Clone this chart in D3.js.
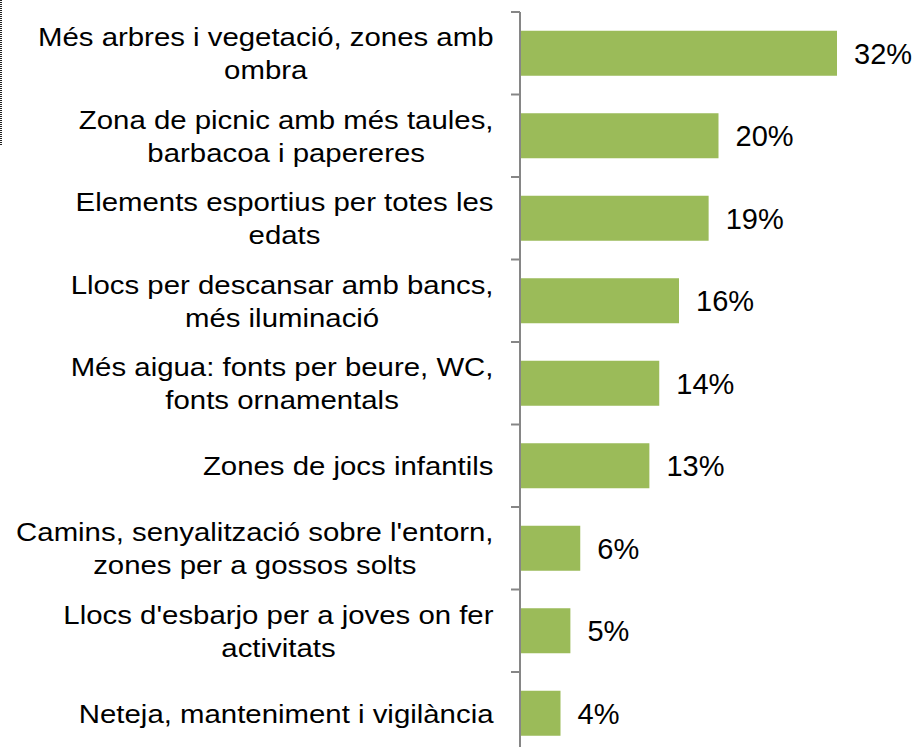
<!DOCTYPE html>
<html>
<head>
<meta charset="utf-8">
<script src="https://cdn.jsdelivr.net/npm/d3@7"></script>
<style>
  body { margin: 0; background: #fff; }
  svg { display: block; font-family: "Liberation Sans", Arial, sans-serif; }
</style>
</head>
<body>
<script>
'use strict';

// categories (lines split with "|") and their share in %
const categories = [
  "Més arbres i vegetació, zones amb|ombra",
  "Zona de picnic amb més taules,|barbacoa i papereres",
  "Elements esportius per totes les|edats",
  "Llocs per descansar amb bancs,|més iluminació",
  "Més aigua: fonts per beure, WC,|fonts ornamentals",
  "Zones de jocs infantils",
  "Camins, senyalització sobre l'entorn,|zones per a gossos solts",
  "Llocs d'esbarjo per a joves on fer|activitats",
  "Neteja, manteniment i vigilància"
];
const values = [32, 20, 19, 16, 14, 13, 6, 5, 4];
const valueLabels = ["32%", "20%", "19%", "16%", "14%", "13%", "6%", "5%", "4%"];

const width = 916, height = 747;
const axisX = 520;

const svg = d3.select("body").append("svg")
  .attr("width", width)
  .attr("height", height);

// scales
const y = d3.scaleBand()
  .domain(categories)
  .range([12, 754.5])
  .paddingInner(0.4545)
  .paddingOuter(0.4545 / 2);

const x = d3.scaleLinear()
  .domain([0, 35])
  .range([axisX + 1, axisX + 1 + 35 * 9.875]);

// dotted border bit on the far left
svg.append("line")
  .attr("x1", 1).attr("x2", 1)
  .attr("y1", 0).attr("y2", 145)
  .attr("stroke", "#222")
  .attr("stroke-width", 2)
  .attr("stroke-dasharray", "1,1");

// bars
svg.selectAll(".bar")
  .data(categories)
  .enter()
  .append("rect")
    .attr("class", "bar")
    .attr("x", x(0))
    .attr("y", d => y(d))
    .attr("width", (d, i) => x(values[i]) - x(0))
    .attr("height", y.bandwidth())
    .attr("fill", "#9BBB59");

// value labels
svg.selectAll(".val")
  .data(categories)
  .enter()
  .append("text")
    .attr("class", "val")
    .attr("x", (d, i) => x(values[i]) + 17)
    .attr("y", d => y(d) + y.bandwidth() / 2)
    .attr("dy", "0.36em")
    .attr("font-size", "29px")
    .attr("fill", "#000")
    .text((d, i) => valueLabels[i]);

// vertical axis line + ticks at category boundaries
const axisG = svg.append("g").attr("stroke", "#868686").attr("stroke-width", 2);
axisG.append("line")
  .attr("x1", axisX).attr("x2", axisX)
  .attr("y1", y.range()[0]).attr("y2", y.range()[1]);
axisG.selectAll(".tick")
  .data(d3.range(categories.length + 1))
  .enter()
  .append("line")
    .attr("x1", axisX - 9).attr("x2", axisX)
    .attr("y1", i => y.range()[0] + i * y.step())
    .attr("y2", i => y.range()[0] + i * y.step());

// category labels: lines centred on each other, block right-aligned
const labelRight = 493.5;
const sx = 1.13;
const lineH = 33;
categories.forEach(cat => {
  const lines = cat.split("|");
  const cy = y(cat) + y.bandwidth() / 2;
  const g = svg.append("g")
    .attr("transform", `translate(${labelRight},0) scale(${sx},1)`);
  const texts = lines.map((ln, j) => g.append("text")
    .attr("y", cy + (j - (lines.length - 1) / 2) * lineH)
    .attr("dy", "0.365em")
    .attr("font-size", "26px")
    .attr("text-anchor", "middle")
    .attr("fill", "#000")
    .text(ln));
  const maxW = d3.max(texts, t => t.node().getComputedTextLength());
  texts.forEach(t => t.attr("x", -maxW / 2));
});
</script>
</body>
</html>
